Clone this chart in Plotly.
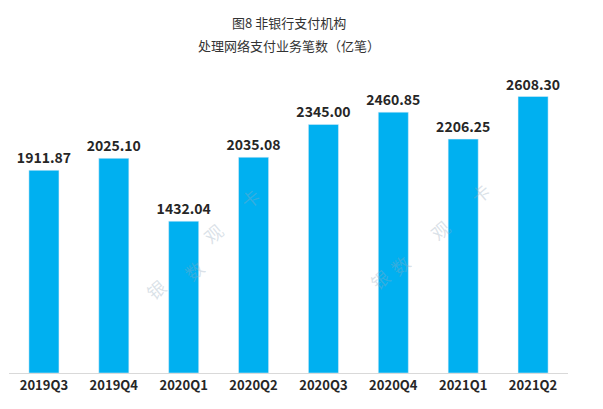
import plotly.graph_objects as go

categories = ["2019Q3", "2019Q4", "2020Q1", "2020Q2", "2020Q3", "2020Q4", "2021Q1", "2021Q2"]
values = [1911.87, 2025.10, 1432.04, 2035.08, 2345.00, 2460.85, 2206.25, 2608.30]
title_lines = ["图8 非银行支付机构", "处理网络支付业务笔数（亿笔）"]
watermark_chars = ["银", "数", "观", "卡"]

fig = go.Figure(go.Bar(
    x=categories, y=values, marker_color="#00B0F0",
    text=[f"{v:.2f}" for v in values], textposition="outside",
    textfont=dict(size=14, color="#262626", family="Noto Sans CJK SC"),
    cliponaxis=False, constraintext="none",
))

W, H, L, T, PW, PH = 603, 409, 1, 65, 559, 300
def px(x, y):
    return (x - L) / PW, (T + PH - y) / PH

ann = []
for i, line in enumerate(title_lines):
    ann.append(dict(text=line, x=0.5, xref="paper", yref="paper",
                    y=px(0, 15 + 22 * i)[1], xanchor="center", yanchor="middle",
                    showarrow=False, font=dict(size=13, color="#333333")))
for pts in ([(130, 300), (168, 262), (205, 225), (242, 190)],
            [(372, 290), (410, 257), (450, 222), (490, 185)]):
    for ch, (x, y) in zip(watermark_chars, pts):
        xp, yp = px(x, y)
        ann.append(dict(text=ch, x=xp, y=yp, xref="paper", yref="paper",
                        showarrow=False, textangle=-40,
                        font=dict(size=18, color="rgba(150,170,190,0.35)")))

fig.update_layout(
    width=W, height=H, margin=dict(l=L, r=W - L - PW, t=T, b=H - T - PH),
    plot_bgcolor="white", paper_bgcolor="white", bargap=0.57,
    font=dict(family="Noto Sans CJK SC"), showlegend=False, annotations=ann,
    xaxis=dict(showline=True, linecolor="#D9D9D9", linewidth=1, ticks="",
               tickfont=dict(size=13, color="#262626", family="Noto Sans CJK SC"),
               tickprefix="<b>", ticksuffix="</b>"),
    yaxis=dict(range=[0, 2830], visible=False, showgrid=False),
)
fig.update_traces(texttemplate="<b>%{text}</b>")
fig.write_html("out.html")
